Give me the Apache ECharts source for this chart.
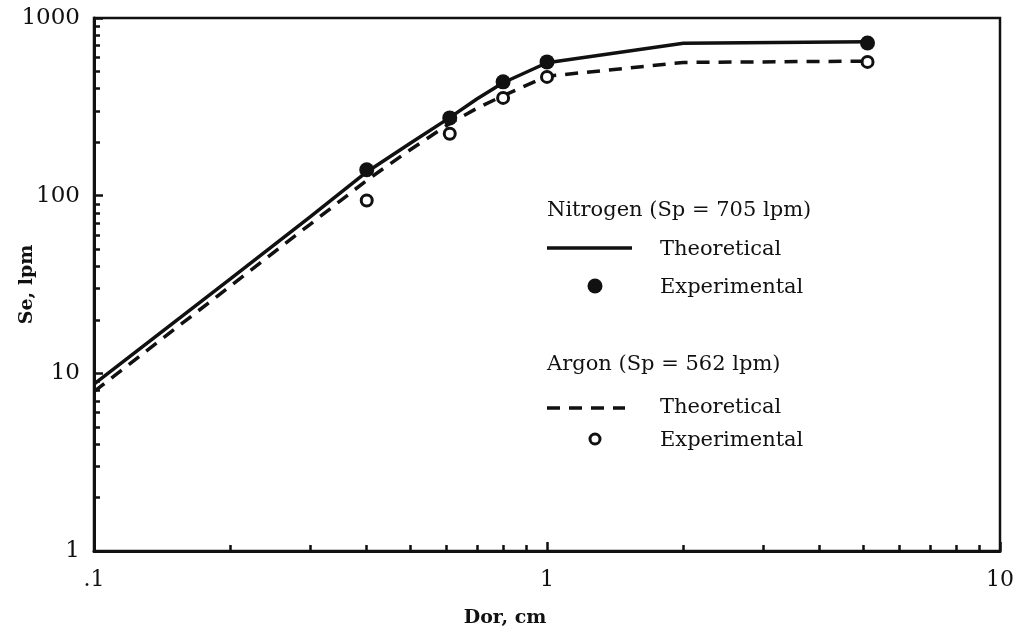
<!DOCTYPE html>
<html>
<head>
<meta charset="utf-8">
<script src="https://cdn.jsdelivr.net/npm/echarts@6/dist/echarts.min.js"></script>
<style>
  html, body { margin: 0; padding: 0; background: #fff; }
  #chart { width: 1017px; height: 633px; }
</style>
</head>
<body>
<div id="chart"></div>
<script>
// Orifice diameter (cm) vs. effective flow Se (lpm), log-log
const nitrogenTheoDor = [0.1, 0.2, 0.3, 0.4, 0.5, 0.61, 0.7, 0.8, 1.0, 2.0, 5.1];
const nitrogenTheoSe  = [8.7, 34, 76, 136, 198, 275, 350, 432, 560, 720, 735];
const argonTheoDor    = [0.1, 0.2, 0.3, 0.4, 0.5, 0.61, 0.7, 0.8, 1.0, 2.0, 5.1];
const argonTheoSe     = [7.9, 31, 69, 122, 182, 255, 310, 365, 470, 562, 572];

const nitrogenExpDor = [0.4, 0.61, 0.8, 1.0, 5.1];
const nitrogenExpSe  = [140, 274, 437, 566, 723];
const argonExpDor    = [0.4, 0.61, 0.8, 1.0, 5.1];
const argonExpSe     = [94, 223, 355, 466, 566];

// Tick values
const xMajorTicks = [0.1, 1, 10];
const xMinorTicks = [0.2, 0.3, 0.4, 0.5, 0.6, 0.7, 0.8, 0.9, 2, 3, 4, 5, 6, 7, 8, 9];
const yMajorTicks = [1, 10, 100, 1000];
const yMinorTicks = [2, 3, 4, 5, 6, 7, 8, 9, 20, 30, 40, 50, 60, 70, 80, 90, 200, 300, 400, 500, 600, 700, 800, 900];

const zip = (xs, ys) => xs.map((x, i) => [x, ys[i]]);

const FONT = 'DejaVu Serif';
const INK = '#111';

const chart = echarts.init(document.getElementById('chart'), null, { renderer: 'canvas' });

const xBase = {
  type: 'log', logBase: 10, min: 0.1, max: 10, gridIndex: 0, position: 'bottom',
  splitLine: { show: false }
};
const yBase = {
  type: 'log', logBase: 10, min: 1, max: 1000, gridIndex: 0, position: 'left',
  splitLine: { show: false }
};

chart.setOption({
  animation: false,
  backgroundColor: '#fff',
  grid: {
    left: 94, right: 17, top: 18, bottom: 82,
    outerBoundsMode: 'none', containLabel: false,
    show: true, borderColor: INK, borderWidth: 2.5, backgroundColor: 'transparent'
  },
  xAxis: [
    Object.assign({}, xBase, {
      name: 'Dor, cm', nameLocation: 'middle', nameGap: 58, nameMoveOverlap: false,
      nameTextStyle: { fontFamily: FONT, fontWeight: 'bold', fontSize: 19, color: INK, padding: [0, 84, 0, 0] },
      axisLine: { show: true, lineStyle: { color: INK, width: 3 } },
      axisTick: { show: true, inside: true, length: 9, lineStyle: { color: INK, width: 2.5 }, customValues: xMajorTicks },
      axisLabel: {
        show: true, margin: 18, fontFamily: FONT, fontSize: 22, color: INK,
        customValues: xMajorTicks,
        formatter: v => (v < 1 ? String(+v.toPrecision(3)).replace(/^0/, '') : String(+v.toPrecision(3)))
      }
    }),
    Object.assign({}, xBase, {
      axisLine: { show: false },
      axisTick: { show: true, inside: true, length: 6, lineStyle: { color: INK, width: 2.5 }, customValues: xMinorTicks },
      axisLabel: { show: false }
    })
  ],
  yAxis: [
    Object.assign({}, yBase, {
      name: 'Se, lpm', nameLocation: 'middle', nameGap: 57, nameRotate: 90, nameMoveOverlap: false,
      nameTextStyle: { fontFamily: FONT, fontWeight: 'bold', fontSize: 19, color: INK },
      axisLine: { show: true, lineStyle: { color: INK, width: 3 } },
      axisTick: { show: true, inside: true, length: 9, lineStyle: { color: INK, width: 2.5 }, customValues: yMajorTicks },
      axisLabel: {
        show: true, margin: 14, fontFamily: FONT, fontSize: 23, color: INK,
        customValues: yMajorTicks,
        formatter: v => String(Math.round(v))
      }
    }),
    Object.assign({}, yBase, {
      axisLine: { show: false },
      axisTick: { show: true, inside: true, length: 6, lineStyle: { color: INK, width: 2.5 }, customValues: yMinorTicks },
      axisLabel: { show: false }
    })
  ],
  series: [
    {
      name: 'Nitrogen Theoretical', type: 'line', xAxisIndex: 0, yAxisIndex: 0,
      data: zip(nitrogenTheoDor, nitrogenTheoSe), showSymbol: false, smooth: false,
      lineStyle: { color: INK, width: 3.5, type: 'solid' }, z: 3
    },
    {
      name: 'Argon Theoretical', type: 'line', xAxisIndex: 0, yAxisIndex: 0,
      data: zip(argonTheoDor, argonTheoSe), showSymbol: false, smooth: false,
      lineStyle: { color: INK, width: 3.5, type: [13, 9] }, z: 3
    },
    {
      name: 'Nitrogen Experimental', type: 'scatter', xAxisIndex: 0, yAxisIndex: 0,
      data: zip(nitrogenExpDor, nitrogenExpSe), symbol: 'circle', symbolSize: 15,
      itemStyle: { color: INK, opacity: 1 }, z: 4
    },
    {
      name: 'Argon Experimental', type: 'scatter', xAxisIndex: 0, yAxisIndex: 0,
      data: zip(argonExpDor, argonExpSe), symbol: 'circle', symbolSize: 11,
      itemStyle: { color: '#fff', borderColor: INK, borderWidth: 3, opacity: 1 }, z: 4
    }
  ],
  graphic: [
    // Key block
    { type: 'text', left: 547, top: 200, style: { text: 'Nitrogen (Sp = 705 lpm)', font: '21px "DejaVu Serif"', fill: INK } },
    { type: 'line', shape: { x1: 547, y1: 248, x2: 632, y2: 248 }, style: { stroke: INK, lineWidth: 3.5 } },
    { type: 'text', left: 660, top: 239, style: { text: 'Theoretical', font: '21px "DejaVu Serif"', fill: INK } },
    { type: 'circle', shape: { cx: 595, cy: 286, r: 7.5 }, style: { fill: INK } },
    { type: 'text', left: 660, top: 277, style: { text: 'Experimental', font: '21px "DejaVu Serif"', fill: INK } },

    { type: 'text', left: 547, top: 354, style: { text: 'Argon (Sp = 562 lpm)', font: '21px "DejaVu Serif"', fill: INK } },
    { type: 'line', shape: { x1: 547, y1: 408, x2: 625, y2: 408 }, style: { stroke: INK, lineWidth: 3.5, lineDash: [13, 9] } },
    { type: 'text', left: 660, top: 397, style: { text: 'Theoretical', font: '21px "DejaVu Serif"', fill: INK } },
    { type: 'circle', shape: { cx: 595, cy: 439, r: 5 }, style: { fill: '#fff', stroke: INK, lineWidth: 3 } },
    { type: 'text', left: 660, top: 430, style: { text: 'Experimental', font: '21px "DejaVu Serif"', fill: INK } }
  ]
});
</script>
</body>
</html>
